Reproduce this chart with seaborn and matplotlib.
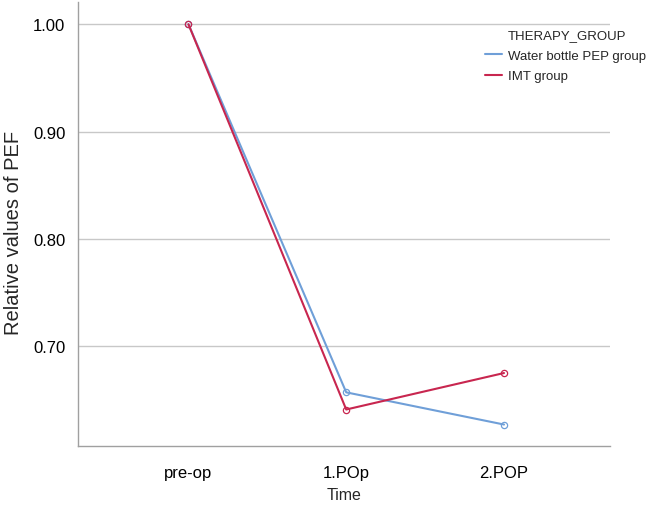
import matplotlib as mpl
mpl.use('agg')
import matplotlib.pyplot as plt
from matplotlib.lines import Line2D
import pandas as pd
import seaborn as sns

# Time points and group means
times = ["pre-op", "1.POp", "2.POP"]
groups = ["Water bottle PEP group", "IMT group"]
pep_values = [1.000, 0.657, 0.627]
imt_values = [1.000, 0.641, 0.675]
yticks = [0.70, 0.80, 0.90, 1.00]

colors = {"Water bottle PEP group": "#6f9fd8", "IMT group": "#c8264f"}

df = pd.DataFrame({
    "Time": times * 2,
    "Value": pep_values + imt_values,
    "THERAPY_GROUP": [groups[0]] * 3 + [groups[1]] * 3,
})

sns.set_style("white")
plt.rcParams['font.family'] = ['Liberation Sans', 'DejaVu Sans']

fig = plt.figure(figsize=(6.5, 5.06), dpi=100)
ax = fig.add_axes([0.12, 0.1166, 0.818, 0.877])

sns.lineplot(data=df, x="Time", y="Value", hue="THERAPY_GROUP", hue_order=groups,
             palette=colors, sort=False, marker="o", markersize=4.5,
             linewidth=1.5, legend=False, ax=ax)
# open circle markers in the line colour
for line in ax.lines:
    line.set_markerfacecolor("none")
    line.set_markeredgecolor(line.get_color())
    line.set_markeredgewidth(0.9)

ax.set_xlim(-0.70, 2.67)
ax.set_ylim(0.607, 1.0205)
ax.set_yticks(yticks)
ax.set_yticklabels(["%.2f" % v for v in yticks])
ax.yaxis.grid(True, color="#c8c8c8", linewidth=1)
ax.xaxis.grid(False)
for s in ["top", "right"]:
    ax.spines[s].set_visible(False)
for s in ["left", "bottom"]:
    ax.spines[s].set_color("#a0a0a0")
    ax.spines[s].set_linewidth(1)
ax.tick_params(axis="both", length=0, labelsize=12, colors="black")
ax.tick_params(axis="y", pad=9)
ax.tick_params(axis="x", pad=14)
ax.set_xlabel("Time", fontsize=11.5, labelpad=5)
ax.set_ylabel("Relative values of PEF", fontsize=14.5)
ax.yaxis.set_label_coords(-0.104, 0.482)

handles = [Line2D([], [], color=colors[g], linewidth=1.5) for g in groups]
leg = ax.legend(handles, groups, loc="upper left",
                bbox_to_anchor=(0.765, 0.893), frameon=False, fontsize=9.5,
                handlelength=1.3, handletextpad=0.45, labelspacing=0.62,
                borderpad=0, borderaxespad=0)
fig.text(508 / 650, 1 - 36 / 506, "THERAPY_GROUP", fontsize=9.5, va="center", ha="left")

fig.savefig("out.png", dpi=100)
